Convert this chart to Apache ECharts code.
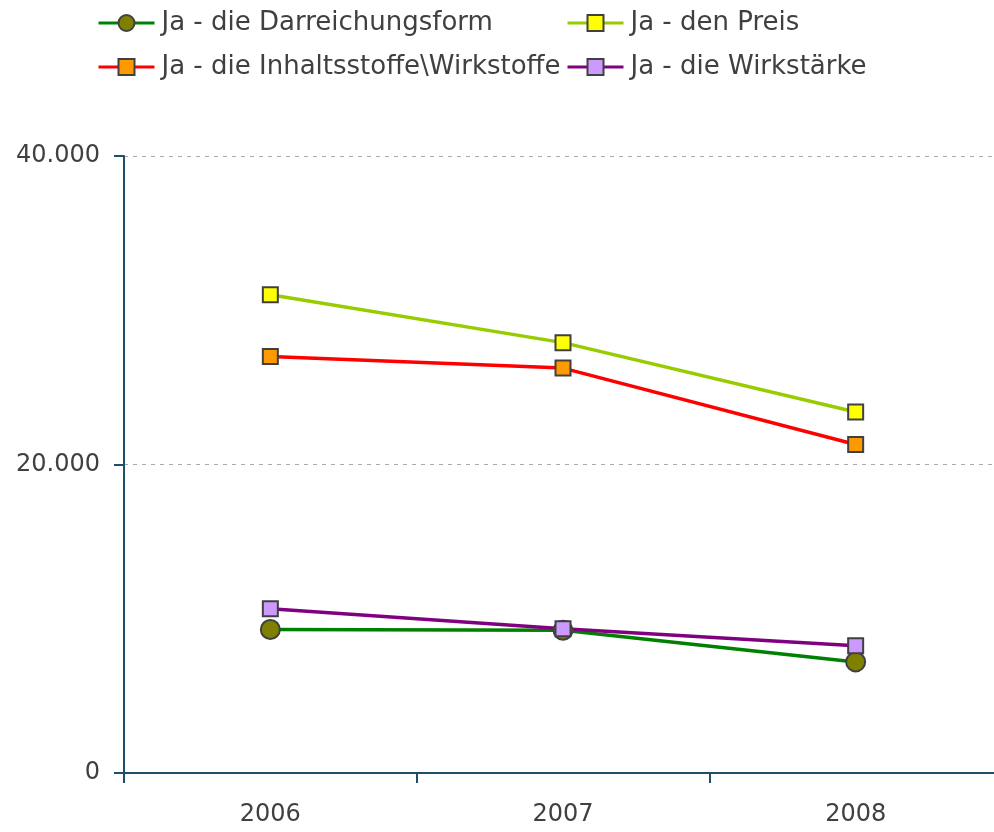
<!DOCTYPE html>
<html>
<head>
<meta charset="utf-8">
<script src="https://cdn.jsdelivr.net/npm/echarts@6/dist/echarts.min.js"></script>
<style>
  html, body { margin: 0; padding: 0; background: #fff; }
  #chart { width: 994px; height: 832px; }
</style>
</head>
<body>
<div id="chart"></div>
<script>
const years = ["2006", "2007", "2008"];
const darreichung = [9300, 9250, 7200];
const preis = [31000, 27900, 23400];
const inhaltsstoffe = [27000, 26250, 21300];
const wirkstaerke = [10650, 9350, 8250];

const FONT = "DejaVu Sans";
const chart = echarts.init(document.getElementById("chart"));

const mkSeries = (name, data, lineColor, fill, symbol, size) => ({
  name,
  type: "line",
  data,
  symbol,
  symbolSize: size,
  lineStyle: { color: lineColor, width: 3.5 },
  itemStyle: { color: fill, borderColor: "#404040", borderWidth: 2 },
  emphasis: { disabled: true },
});

const legendBase = {
  orient: "vertical",
  top: 5,
  itemWidth: 56,
  itemHeight: 20,
  itemGap: 18,
  lineStyle: { width: 3 },
  textStyle: { fontFamily: FONT, fontSize: 26, lineHeight: 20, color: "#404040", padding: [0, 0, 0, 2] },
};

chart.setOption({
  animation: false,
  legend: [
    Object.assign({}, legendBase, { left: 92, data: ["Ja - die Darreichungsform", "Ja - die Inhaltsstoffe\\Wirkstoffe"] }),
    Object.assign({}, legendBase, { left: 561, data: ["Ja - den Preis", "Ja - die Wirkstärke"] }),
  ],
  grid: { left: 124, top: 156, width: 878, height: 617, containLabel: false, outerBoundsMode: "none" },
  xAxis: {
    type: "category",
    data: years,
    boundaryGap: true,
    axisLine: { lineStyle: { color: "#1f4e6b", width: 2 } },
    axisTick: { show: true, length: 10, lineStyle: { color: "#1f4e6b", width: 2 } },
    axisLabel: { fontFamily: FONT, fontSize: 24, color: "#404040", margin: 30 },
  },
  yAxis: {
    type: "value",
    min: 0,
    max: 40000,
    interval: 20000,
    axisLine: { show: true, lineStyle: { color: "#1f4e6b", width: 2 } },
    axisTick: { show: true, length: 10, lineStyle: { color: "#1f4e6b", width: 2 } },
    axisLabel: {
      fontFamily: FONT,
      fontSize: 24,
      color: "#404040",
      margin: 24,
      formatter: (v) => v.toLocaleString("de-DE"),
    },
    splitLine: { show: true, lineStyle: { color: "#aaaaaa", type: [4, 5], width: 1 } },
  },
  series: [
    mkSeries("Ja - die Darreichungsform", darreichung, "#008000", "#808000", "circle", 19),
    mkSeries("Ja - den Preis", preis, "#99cc00", "#ffff00", "rect", 15),
    mkSeries("Ja - die Inhaltsstoffe\\Wirkstoffe", inhaltsstoffe, "#ff0000", "#ff9900", "rect", 15),
    mkSeries("Ja - die Wirkstärke", wirkstaerke, "#800080", "#cc99ff", "rect", 15),
  ],
});
</script>
</body>
</html>
